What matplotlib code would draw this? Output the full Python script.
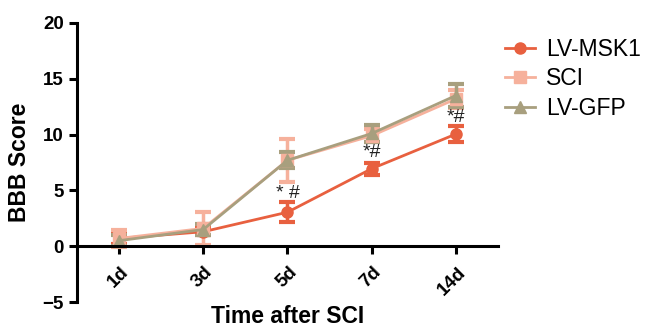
import matplotlib
matplotlib.use("Agg")
from matplotlib import pyplot
from matplotlib.lines import Line2D
from matplotlib.transforms import ScaledTranslation
import numpy

# DATA
days = ["1d", "3d", "5d", "7d", "14d"]
msk1_mean = [0.7, 1.3, 3.05, 6.95, 10.05]
msk1_err = [0.5, 0.3, 0.9, 0.55, 0.75]
sci_mean = [0.7, 1.6, 7.7, 9.9, 13.2]
sci_err = [0.8, 1.5, 1.9, 0.6, 0.8]
gfp_mean = [0.5, 1.5, 7.7, 10.1, 13.5]
gfp_err = [0.5, 0.5, 0.7, 0.8, 1.0]
star_days = [2, 3, 4]
star_y = [4.75, 8.4, 11.5]
star_text = ["* #", "*#", "*#"]

pyplot.rcParams['font.family'] = ['Liberation Sans', 'DejaVu Sans']

canvas = pyplot.figure(figsize=(6.46, 3.28), dpi=100)
axes = canvas.add_axes([0.119, 0.079, 0.652, 0.851])
x = numpy.arange(len(days))

# SPINE POSITION FIRST, IT RESETS TICK LABEL STYLES
axes.spines["top"].set_visible(False)
axes.spines["right"].set_visible(False)
axes.spines["bottom"].set_position(("data", 0))
axes.spines["left"].set_linewidth(2.2)
axes.spines["bottom"].set_linewidth(2.2)

series = [
    ("LV-MSK1", msk1_mean, msk1_err, "#E8603F", "o"),
    ("SCI", sci_mean, sci_err, "#F6B19C", "s"),
    ("LV-GFP", gfp_mean, gfp_err, "#A89F7E", "^"),
]
handles = []
for name, mean, err, color, marker in series:
    axes.errorbar(x, mean, yerr=err, color=color, marker=marker, markersize=8,
                  lw=2, elinewidth=2.5, capsize=6, capthick=3)
    handles.append(Line2D([], [], color=color, marker=marker, markersize=8, lw=2, label=name))

for i, yy, s in zip(star_days, star_y, star_text):
    axes.text(i, yy, s, ha="center", va="center", fontsize=14, color="#222222")

axes.set_xlim([-0.5, 4.5])
axes.set_ylim([-5, 20])
axes.set_yticks([-5, 0, 5, 10, 15, 20])
axes.set_xticks(x)
axes.tick_params(axis="both", width=2.2, length=6, direction="out")
axes.tick_params(axis="x", pad=8)
axes.set_xticklabels(days, rotation=45, fontweight="bold", fontsize=13.5,
                     ha="right", va="center", rotation_mode="anchor")
# NUDGE ROTATED LABELS RIGHT AND DOWN (AFTER tick_params, WHICH RESETS TRANSFORMS)
shift = ScaledTranslation(7 / 100, -4 / 100, canvas.dpi_scale_trans)
for lab in axes.get_xticklabels():
    lab.set_transform(lab.get_transform() + shift)
for lab in axes.get_yticklabels():
    lab.set_fontweight("bold")
    lab.set_fontsize(13.5)
axes.set_ylabel("BBB Score", fontweight="bold", fontsize=16.5, labelpad=8)
axes.set_xlabel("Time after SCI", fontweight="bold", fontsize=16.5, va="baseline")
axes.xaxis.set_label_coords(0.5, -0.075)

axes.legend(handles=handles, loc="upper left", bbox_to_anchor=(0.995, 0.98), frameon=False,
            fontsize=16.5, handlelength=1.3, handletextpad=0.5, labelspacing=0.28,
            borderaxespad=0.0)

pyplot.savefig("out.png", dpi=100)
